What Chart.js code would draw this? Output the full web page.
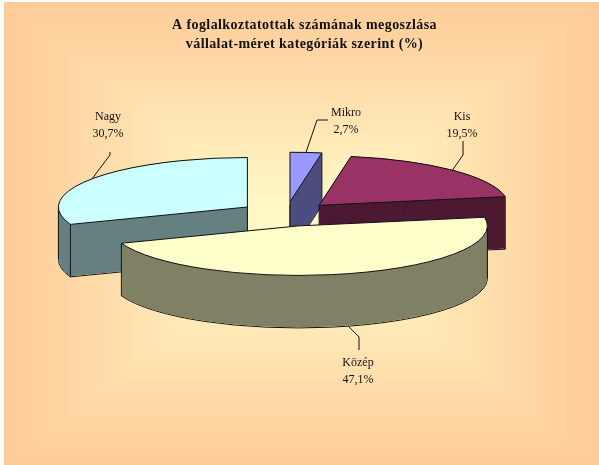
<!DOCTYPE html>
<html>
<head>
<meta charset="utf-8">
<style>html,body{margin:0;padding:0;background:#fff}canvas{display:block}</style>
<script src="https://cdn.jsdelivr.net/npm/chart.js@4/dist/chart.umd.min.js"></script>
</head>
<body>
<canvas id="c" width="599" height="465"></canvas>
<script>
const categories = ['Mikro', 'Kis', 'Közép', 'Nagy'];
const shares = [2.7, 19.5, 47.1, 30.7];
const titleLines = ['A foglalkoztatottak számának megoszlása', 'vállalat-méret kategóriák szerint (%)'];
const topColors = ['#9999FF', '#993366', '#FFFFCC', '#CCFFFF'];
const wallColors = ['#4D4D80', '#4D1A33', '#808066', '#668080'];

// Presentation settings for the tilted, exploded pie
const drawOrder = [3, 0, 1, 2];
const radius = 189, squash = 0.262, explode = 47, depth = 52.5, pieShiftX = -18.5;
const lineColor = '#111';
const labelAt = [[346, 113], [462, 117], [358, 362.5], [108, 117]];
const leaders = [
  [[317, 120], [328, 120]],
  [[463, 155], [463, 141]],
  [[359, 337], [359, 350]],
  [[110, 155], [110, 152]]
];

function toPie(ctx, el) {
  const mid = (el.startAngle + el.endAngle) / 2;
  ctx.translate(el.x + pieShiftX, el.y);
  ctx.scale(1, squash);
  ctx.translate(Math.cos(mid) * explode - el.x, Math.sin(mid) * explode - el.y);
}
function slicePath(ctx, el, dy) {
  ctx.save();
  ctx.translate(0, dy);
  toPie(ctx, el);
  ctx.beginPath();
  ctx.moveTo(el.x, el.y);
  ctx.arc(el.x, el.y, el.outerRadius, el.startAngle, el.endAngle);
  ctx.closePath();
  ctx.restore();
}
function rimPoint(el, angle) {
  const mid = (el.startAngle + el.endAngle) / 2;
  return [
    el.x + pieShiftX + Math.cos(mid) * explode + Math.cos(angle) * el.outerRadius,
    el.y + squash * (Math.sin(mid) * explode + Math.sin(angle) * el.outerRadius)
  ];
}
function apexPoint(el) {
  const mid = (el.startAngle + el.endAngle) / 2;
  return [el.x + pieShiftX + Math.cos(mid) * explode, el.y + squash * Math.sin(mid) * explode];
}
function drawWall(ctx, el, color) {
  ctx.strokeStyle = lineColor;
  ctx.lineWidth = 1;
  slicePath(ctx, el, depth);
  ctx.stroke();
  ctx.fillStyle = color;
  for (let dy = depth - 0.6; dy > -0.5; dy -= 0.5) {
    slicePath(ctx, el, dy);
    ctx.fill();
  }
  // vertical creases where the wall is visible
  slicePath(ctx, el, 0);
  const corners = [apexPoint(el), rimPoint(el, el.startAngle), rimPoint(el, el.endAngle)];
  const visible = corners.filter(p => !ctx.isPointInPath(p[0], p[1] + 3));
  [0, Math.PI, 2 * Math.PI].forEach(a => {
    if (a > el.startAngle && a < el.endAngle) visible.push(rimPoint(el, a));
  });
  ctx.beginPath();
  visible.forEach(p => { ctx.moveTo(p[0], p[1]); ctx.lineTo(p[0], p[1] + depth); });
  ctx.stroke();
}

const backdrop = {
  id: 'backdrop',
  beforeDraw(chart) {
    const ctx = chart.ctx, x0 = 4, y0 = 2, x1 = 599, y1 = 465;
    const cx = (x0 + x1) / 2, cy = (y0 + y1) / 2, steps = 51;
    for (let i = 0; i <= steps; i++) {
      const t = 1 - i / steps;
      const w = (x1 - x0) / 2 * t, h = (y1 - y0) / 2 * t;
      ctx.fillStyle = `rgb(255,${Math.round(255 - 51 * t)},${Math.round(204 - 51 * t)})`;
      ctx.fillRect(cx - w, cy - h, w * 2, h * 2);
    }
    ctx.letterSpacing = '0.4px'; // title tracking
  }
};

const pie3d = {
  id: 'pie3d',
  beforeDatasetsDraw(chart) {
    const ctx = chart.ctx, arcs = chart.getDatasetMeta(0).data;
    ctx.letterSpacing = '0px';
    drawOrder.forEach(i => {
      const el = arcs[i];
      drawWall(ctx, el, wallColors[i]);
      ctx.save();
      toPie(ctx, el);
      el.draw(ctx);
      ctx.restore();
      slicePath(ctx, el, 0);
      ctx.strokeStyle = lineColor;
      ctx.lineWidth = 1;
      ctx.stroke();
    });
    arcs.forEach((el, i) => {
      const mid = (el.startAngle + el.endAngle) / 2;
      const rim = rimPoint(el, mid);
      const front = Math.sin(mid) > 0 ? depth : 0;
      ctx.beginPath();
      ctx.moveTo(rim[0], rim[1] + front);
      leaders[i].forEach(p => ctx.lineTo(p[0], p[1]));
      ctx.strokeStyle = lineColor;
      ctx.lineWidth = 1;
      ctx.stroke();
      ctx.fillStyle = '#111';
      ctx.font = '12px "Liberation Serif"';
      ctx.textAlign = 'center';
      ctx.textBaseline = 'middle';
      ctx.fillText(categories[i], labelAt[i][0], labelAt[i][1]);
      ctx.fillText(shares[i].toFixed(1).replace('.', ',') + '%', labelAt[i][0], labelAt[i][1] + 17);
    });
    return false;
  }
};

new Chart(document.getElementById('c'), {
  type: 'pie',
  data: {
    labels: categories,
    datasets: [{ data: shares, backgroundColor: topColors, borderWidth: 0 }]
  },
  options: {
    responsive: false,
    animation: false,
    radius: radius,
    layout: { padding: { left: 10, bottom: 90.5 } },
    plugins: {
      legend: { display: false },
      tooltip: { enabled: false },
      title: {
        display: true,
        text: titleLines,
        color: '#111',
        font: { family: '"Liberation Serif"', size: 14, weight: 'bold', lineHeight: 1.36 },
        padding: { top: 15.5, bottom: 0 }
      }
    }
  },
  plugins: [backdrop, pie3d]
});
</script>
</body>
</html>
